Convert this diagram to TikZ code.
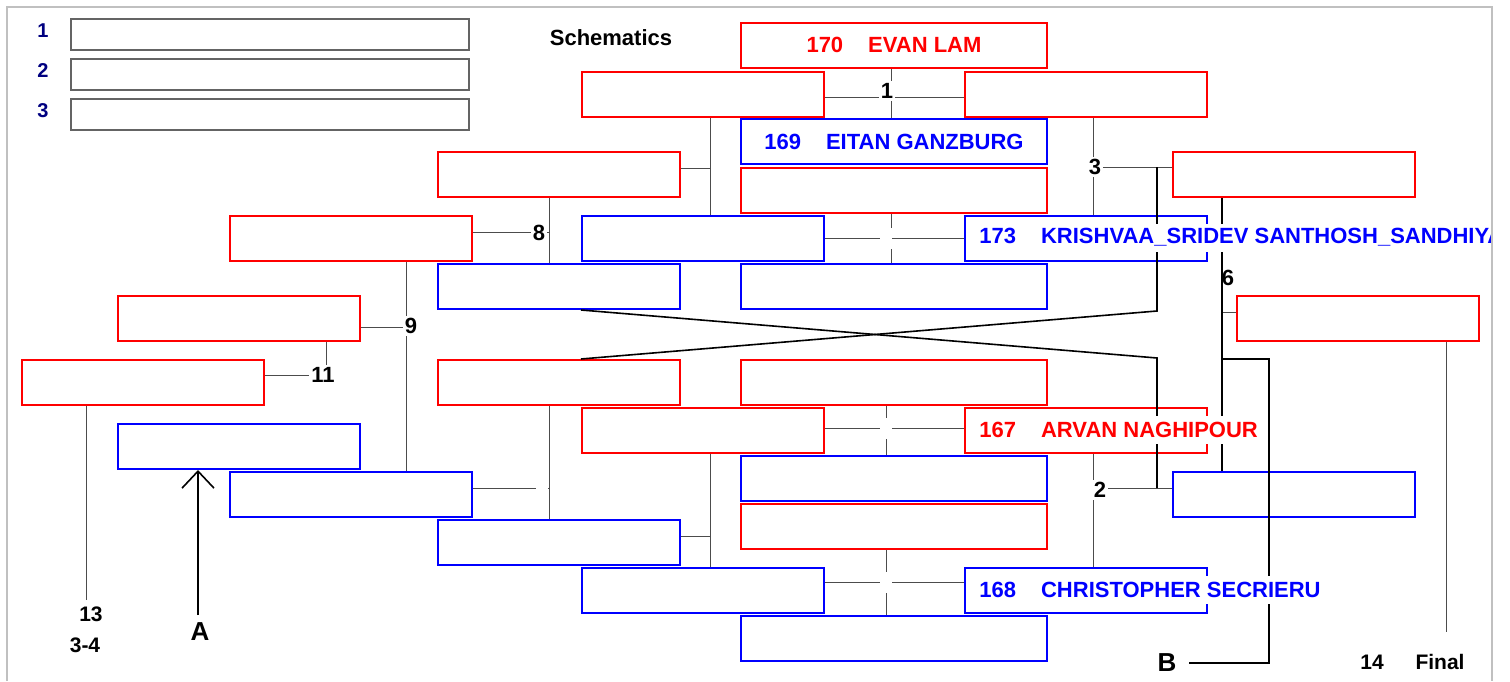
\documentclass[tikz,border=0pt]{standalone}
\usepackage{fontspec}
\setmainfont{Liberation Sans}
\usetikzlibrary{arrows.meta}
\definecolor{navy}{RGB}{0,0,128}
\definecolor{framegray}{RGB}{192,192,192}
\definecolor{legendgray}{RGB}{100,100,100}

\begin{document}
\begin{tikzpicture}[x=0.5pt, y=-0.5pt,
	seat/.style={draw, line width=1pt, fill=white, minimum width=121pt, minimum height=22.5pt, inner sep=0pt, font=\fontsize{11}{12}\selectfont\bfseries},
	rseat/.style={seat, draw=red, text=red},
	bseat/.style={seat, draw=blue, text=blue},
	wide/.style={minimum width=153pt},
	nametext/.style={fill=white, inner xsep=2.5pt, inner ysep=0pt, minimum height=14pt, font=\fontsize{11}{12}\selectfont\bfseries},
	legbox/.style={draw=legendgray, line width=0.75pt, minimum width=199pt, minimum height=15.5pt, inner sep=0pt},
	legnum/.style={text=navy, font=\fontsize{10}{11}\selectfont\bfseries},
	num/.style={fill=white, inner sep=1pt, font=\fontsize{11}{12}\selectfont\bfseries},
	tag/.style={font=\fontsize{10.5}{12}\selectfont\bfseries},
	blank/.style={fill=white, minimum width=6pt, minimum height=10.5pt, inner sep=0pt},
	wire/.style={black!70, line width=0.5pt},
	bracket/.style={black, line width=0.8pt}]
	\useasboundingbox (0,0) rectangle (1510,681);

	% legend
	\foreach \i/\y in {1/34.5, 2/74.5, 3/114.5} {
		\node[legnum] at (43,\y-4) {\i};
		\node[legbox] (leg\i) at (270,\y) {};
	}
	\node[font=\fontsize{11}{12}\selectfont\bfseries] (title) at (611,38) {Schematics};

	% seats
	\node[rseat, wide] (p170) at (894,45) {170\hspace{12.5pt}EVAN LAM\hspace{6.5pt}};
	\node[rseat] (sa) at (703,94.5) {};
	\node[rseat] (sb) at (1086,94.5) {};
	\node[bseat, wide] (p169) at (894,141.5) {169\hspace{12.5pt}EITAN GANZBURG};
	\node[rseat, wide] (sc) at (894,190.5) {};
	\node[rseat] (sd) at (559,174.5) {};
	\node[rseat] (se) at (1294,174.5) {};
	\node[rseat] (sf) at (351,238.5) {};
	\node[bseat] (sg) at (703,238.5) {};
	\node[bseat] (p173) at (1086,238.5) {};
	\node[bseat] (sh) at (559,286.5) {};
	\node[bseat, wide] (si) at (894,286.5) {};
	\node[rseat] (sj) at (239,318.5) {};
	\node[rseat] (sk) at (1358,318.5) {};
	\node[rseat] (sl) at (143,382.5) {};
	\node[rseat] (sm) at (559,382.5) {};
	\node[rseat, wide] (sn) at (894,382.5) {};
	\node[rseat, line width=1.4pt] (so) at (703,430.5) {};
	\node[rseat] (p167) at (1086,430.5) {};
	\node[bseat] (sp) at (239,446.5) {};
	\node[bseat, wide] (sq) at (894,478.5) {};
	\node[bseat] (sr) at (351,494.5) {};
	\node[bseat] (ss) at (1294,494.5) {};
	\node[rseat, wide] (st) at (894,526.5) {};
	\node[bseat] (su) at (559,542.5) {};
	\node[bseat] (sv) at (703,590.5) {};
	\node[bseat] (p168) at (1086,590.5) {};
	\node[bseat, wide] (sw) at (894,638.5) {};

	% junctions
	\coordinate (j1) at (891,97);
	\coordinate (jd) at (710,168);
	\coordinate (j3) at (1093,167);
	\coordinate (jt) at (891,238);
	\coordinate (j8) at (549,232);
	\coordinate (j9) at (406,327);
	\coordinate (j11) at (326,375);
	\coordinate (j2) at (1093,488);
	\coordinate (jx) at (549,488);
	\coordinate (jy) at (710,536);
	\coordinate (jn) at (886,428);
	\coordinate (jw) at (886,582);
	\coordinate (j6) at (1222,312);
	\coordinate (c13) at (86,600);
	\coordinate (ca) at (198,615);
	\coordinate (cf) at (1446,632);
	\coordinate (cb) at (1189,663);

	\draw[wire] (sa.east |- j1) -- (sb.west |- j1);
	\draw[wire] (j1 |- p170.south) -- (j1 |- p169.north);
	\draw[wire] (sd.east |- jd) -- (jd);
	\draw[wire] (jd |- sa.south) -- (jd |- sg.north);
	\draw[wire] (j3 |- sb.south) -- (j3 |- p173.north);
	\draw[wire] (j3) -- (se.west |- j3);
	\draw[wire] (sg.east |- jt) -- (p173.west |- jt);
	\draw[wire] (jt |- sc.south) -- (jt |- si.north);
	\draw[wire] (sf.east |- j8) -- (j8);
	\draw[wire] (j8 |- sd.south) -- (j8 |- sh.north);
	\draw[wire] (sj.east |- j9) -- (j9);
	\draw[wire] (j9 |- sf.south) -- (j9 |- sr.north);
	\draw[wire] (sl.east |- j11) -- (j11);
	\draw[wire] (j11 |- sj.south) -- ++(0,33);
	\draw[wire] (c13 |- sl.south) -- (c13);
	\draw[wire] (j2 |- p167.south) -- (j2 |- p168.north);
	\draw[wire] (j2) -- (ss.west |- j2);
	\draw[wire] (sr.east |- jx) -- (jx);
	\draw[wire] (jx |- sm.south) -- (jx |- su.north);
	\draw[wire] (su.east |- jy) -- (jy);
	\draw[wire] (jy |- so.south) -- (jy |- sv.north);
	\draw[wire] (so.east |- jn) -- (p167.west |- jn);
	\draw[wire] (jn |- sn.south) -- (jn |- sq.north);
	\draw[wire] (sv.east |- jw) -- (p168.west |- jw);
	\draw[wire] (jw |- st.south) -- (jw |- sw.north);
	\draw[wire] (j6) -- (sk.west |- j6);
	\draw[wire] (cf |- sk.south) -- (cf);

	\draw[bracket] (1157,167) -- (1157,311) -- (sm.north -| sg.west);
	\draw[bracket] (sh.south -| sg.west) -- (1157,358) -- (1157,488);
	\draw[bracket] (j6 |- se.south) -- (j6 |- ss.north);
	\draw[bracket] (1222,359) -- (1269,359) -- (1269,663) -- (cb);
	\draw[bracket, -{Straight Barb[length=8.5pt, width=16pt]}] (ca) -- (ca |- sp.south);

	% labels
	\node[num] at (887,91) {1};
	\node[num] at (1095,167) {3};
	\node[num] at (539,233) {8};
	\node[num] at (411,326) {9};
	\node[num] at (323,375) {11};
	\node[num] at (1100,490) {2};
	\node[num, fill=none] at (1228,278) {6};
	\node[blank, anchor=east] at ([xshift=0.5pt]jt) {};
	\node[blank] at (jn) {};
	\node[blank] at (jw) {};
	\node[blank, anchor=east] at ([xshift=-0.5pt]jx) {};
	\node[tag] at (91,614) {13};
	\node[tag] at (85,645) {3-4};
	\node[font=\fontsize{13}{14}\selectfont\bfseries] at (200,632) {A};
	\node[font=\fontsize{13}{14}\selectfont\bfseries] at (1167,663) {B};
	\node[tag] at (1372,662) {14};
	\node[tag] at (1440,662) {Final};

	% names running past their seats
	\begin{scope}
		\clip (0,0) rectangle (1491,681);
		\node[nametext, text=blue, anchor=west] (n173) at ([xshift=5pt,yshift=0.5pt]p173.west) {173\hspace{12.5pt}KRISHVAA\_SRIDEV SANTHOSH\_SANDHIYA};
		\node[nametext, text=red, anchor=west] (n167) at ([xshift=5pt,yshift=0.5pt]p167.west) {167\hspace{12.5pt}ARVAN NAGHIPOUR};
		\node[nametext, text=blue, anchor=west] (n168) at ([xshift=5pt,yshift=0.5pt]p168.west) {168\hspace{12.5pt}CHRISTOPHER SECRIERU};
	\end{scope}

	\draw[framegray, line width=1.2pt] (7,681) -- (7,7) -- (1492,7) -- (1492,681);
\end{tikzpicture}
\end{document}
